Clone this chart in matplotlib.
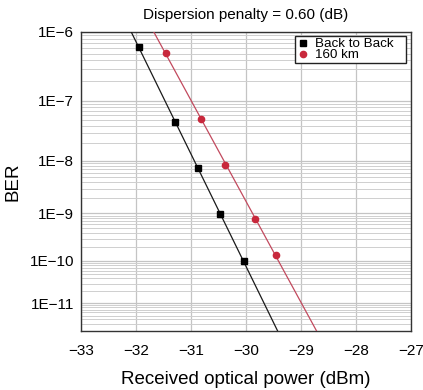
import numpy as np
import matplotlib.pyplot as plt
from matplotlib.ticker import FixedLocator, NullFormatter

plt.rcParams['font.family'] = ['Liberation Sans', 'DejaVu Sans']

# Datos
p_b2b = [-31.95, -31.29, -30.87, -30.48, -30.04]
ber_b2b = [6.2e-7, 4.6e-8, 7.3e-9, 9.8e-10, 1.0e-10]
p_160 = [-31.46, -30.81, -30.38, -29.84, -29.45]
ber_160 = [5.1e-7, 5.1e-8, 8.4e-9, 7.8e-10, 1.35e-10]

decadas = [-6, -7, -8, -9, -10, -11]
etiquetas = ['1E\u22126', '1E\u22127', '1E\u22128', '1E\u22129', '1E\u221210', '1E\u221211']


# escala BER: -log10(-log10(BER))
def fwd(b):
    b = np.clip(b, 1e-300, 0.999999)
    return -np.log10(-np.log10(b))


def inv(t):
    return 10 ** (-10 ** (-t))


fig = plt.figure(figsize=(4.23, 3.9), dpi=100)
ax = fig.add_axes([0.1915, 0.151, 0.78, 0.768])
ax.set_yscale('function', functions=(fwd, inv))
ax.set_xlim(-33, -27)
ax.set_ylim(2e-12, 1e-6)

# lineas de ajuste en la escala transformada
xs = np.array([-34.0, -26.0])
for p, b, c in [(p_b2b, ber_b2b, '#1a1a1a'), (p_160, ber_160, '#c24a5e')]:
    coef = np.polyfit(p, np.log10(-np.log10(b)), 1)
    ax.plot(xs, 10 ** (-10 ** np.polyval(coef, xs)), color=c, lw=0.9, zorder=3)

ax.plot(p_b2b, ber_b2b, 's', color='black', ms=5, label='Back to Back', zorder=4)
ax.plot(p_160, ber_160, 'o', color='#c8283c', ms=4.5, label='160 km', zorder=4)

ax.yaxis.set_major_locator(FixedLocator([10.0 ** d for d in decadas]))
ax.set_yticklabels(etiquetas)
menores = [m * 10.0 ** d for d in range(-12, -6) for m in range(2, 10)]
ax.yaxis.set_minor_locator(FixedLocator(menores))
ax.yaxis.set_minor_formatter(NullFormatter())
ax.set_xticks(range(-33, -26))
ax.set_xticklabels(['\u2212%d' % (-v) for v in range(-33, -26)])

ax.grid(True, which='major', color='#c4c4c4', lw=0.9)
ax.grid(True, which='minor', axis='y', color='#cfcfcf', lw=0.7)
ax.tick_params(which='both', length=0, labelsize=11)
ax.tick_params(axis='x', pad=9.5)
ax.tick_params(axis='y', pad=5)
for s in ax.spines.values():
    s.set_color('#333333')
    s.set_linewidth(1.0)

ax.set_xlabel('Received optical power (dBm)', fontsize=13.5, labelpad=9)
ax.set_ylabel('BER', fontsize=13.5, labelpad=6)
ax.set_title('Dispersion penalty = 0.60 (dB)', fontsize=11, pad=9)

leg = ax.legend(loc='upper left', bbox_to_anchor=(0.648, 0.0, 0.336, 0.985),
                mode='expand', fontsize=9.6, frameon=True, fancybox=False,
                borderpad=0.15, handletextpad=0.4, labelspacing=-0.1,
                handlelength=1.0, borderaxespad=0.0)
leg.get_frame().set_edgecolor('#222222')
leg.get_frame().set_linewidth(1.0)
leg.get_frame().set_alpha(1)

fig.savefig('out.png', dpi=100)
